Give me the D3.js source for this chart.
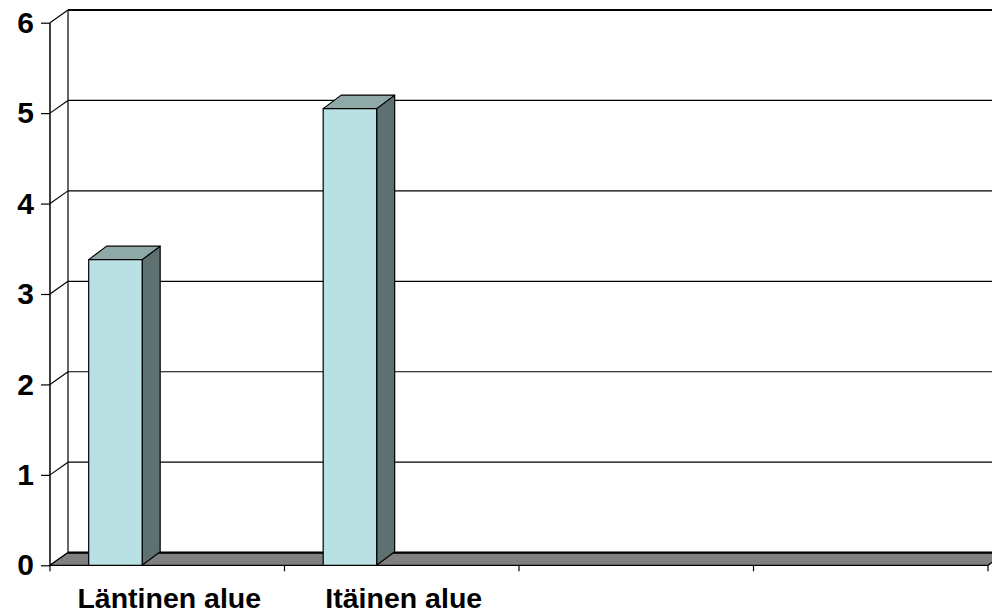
<!DOCTYPE html>
<html>
<head>
<meta charset="utf-8">
<script src="https://cdn.jsdelivr.net/npm/d3@7"></script>
<style>
  body { margin: 0; background: #fff; }
  text { font-family: "Liberation Sans", Arial, sans-serif; font-weight: bold; fill: #000; }
</style>
</head>
<body>
<svg id="chart"></svg>
<script>
const categories = ['Läntinen alue', 'Itäinen alue', '', '']
const values = [3.38, 5.05, null, null]
const yTicks = [0, 1, 2, 3, 4, 5, 6]

const width = 992
const height = 615
const depthX = 18 // wall depth, pixels
const depthY = 12.7
const barDepthX = 18
const barDepthY = 13.5

const svg = d3.select('#chart').attr('width', width).attr('height', height)

const x = d3.scaleBand().domain(d3.range(categories.length)).range([50, 988]).padding(0)
const y = d3.scaleLinear().domain([0, 6]).range([565.3, 22.7])

// back wall gridlines + side wall diagonals
yTicks.forEach(t => {
  svg.append('line')
    .attr('x1', 50 + depthX).attr('x2', width + 20)
    .attr('y1', y(t) - depthY).attr('y2', y(t) - depthY)
    .attr('stroke', '#000').attr('stroke-width', t === 6 ? 2 : 1.2)
  svg.append('line')
    .attr('x1', 50).attr('y1', y(t))
    .attr('x2', 50 + depthX).attr('y2', y(t) - depthY)
    .attr('stroke', '#000').attr('stroke-width', 1.2)
})

// back wall left edge
svg.append('line')
  .attr('x1', 50 + depthX).attr('x2', 50 + depthX)
  .attr('y1', y(6) - depthY).attr('y2', y(0) - depthY)
  .attr('stroke', '#000').attr('stroke-width', 1.2)

// floor
const x0 = 50
const x1 = 988
svg.append('path')
  .attr('d', `M${x0},${y(0)}L${x1},${y(0)}L${x1 + depthX},${y(0) - depthY}L${x0 + depthX},${y(0) - depthY}Z`)
  .attr('fill', '#808080').attr('stroke', '#000').attr('stroke-width', 1.2)
svg.append('line')
  .attr('x1', x0 + depthX).attr('x2', width + 20)
  .attr('y1', y(0) - depthY).attr('y2', y(0) - depthY)
  .attr('stroke', '#000').attr('stroke-width', 2.2)

// front y axis
svg.append('line')
  .attr('x1', 50).attr('x2', 50).attr('y1', y(6)).attr('y2', y(0))
  .attr('stroke', '#000').attr('stroke-width', 1.5)
const yAxis = d3.axisLeft(y).tickValues(yTicks).tickSize(9).tickPadding(7).tickFormat(d3.format('d'))
const gy = svg.append('g').attr('transform', 'translate(50,0)').call(yAxis)
gy.select('.domain').remove()
gy.selectAll('.tick line').attr('stroke', '#000').attr('stroke-width', 1.2)
gy.selectAll('.tick text').style('font-size', '30px')
  .attr('font-weight', 'bold').attr('fill', '#000')

// category ticks
const catTicks = d3.range(categories.length + 1).map(i => i === categories.length ? x1 : x(i))
catTicks.forEach(cx => {
  svg.append('line')
    .attr('x1', cx).attr('x2', cx).attr('y1', y(0)).attr('y2', y(0) + 6)
    .attr('stroke', '#000').attr('stroke-width', 1.2)
})

// bars
const bw = x.bandwidth()
values.forEach((v, i) => {
  if (v === null) return
  const bx = x(i) + bw * 0.165
  const w = bw * 0.228
  const top = y(v)
  const bottom = y(0)
  const g = svg.append('g').attr('stroke', '#000').attr('stroke-width', 1.2).attr('stroke-linejoin', 'round')
  // side
  g.append('path')
    .attr('d', `M${bx + w},${top}L${bx + w + barDepthX},${top - barDepthY}L${bx + w + barDepthX},${bottom - barDepthY}L${bx + w},${bottom}Z`)
    .attr('fill', '#5E7070')
  // top
  g.append('path')
    .attr('d', `M${bx},${top}L${bx + barDepthX},${top - barDepthY}L${bx + w + barDepthX},${top - barDepthY}L${bx + w},${top}Z`)
    .attr('fill', '#8FA8A8')
  // front
  g.append('rect')
    .attr('x', bx).attr('y', top).attr('width', w).attr('height', bottom - top)
    .attr('fill', '#B9E0E2')
})

// category labels
categories.forEach((c, i) => {
  svg.append('text')
    .attr('x', x(i) + bw / 2 + 2)
    .attr('y', 608)
    .attr('text-anchor', 'middle')
    .style('font-size', '28.5px')
    .text(c)
})
</script>
</body>
</html>
